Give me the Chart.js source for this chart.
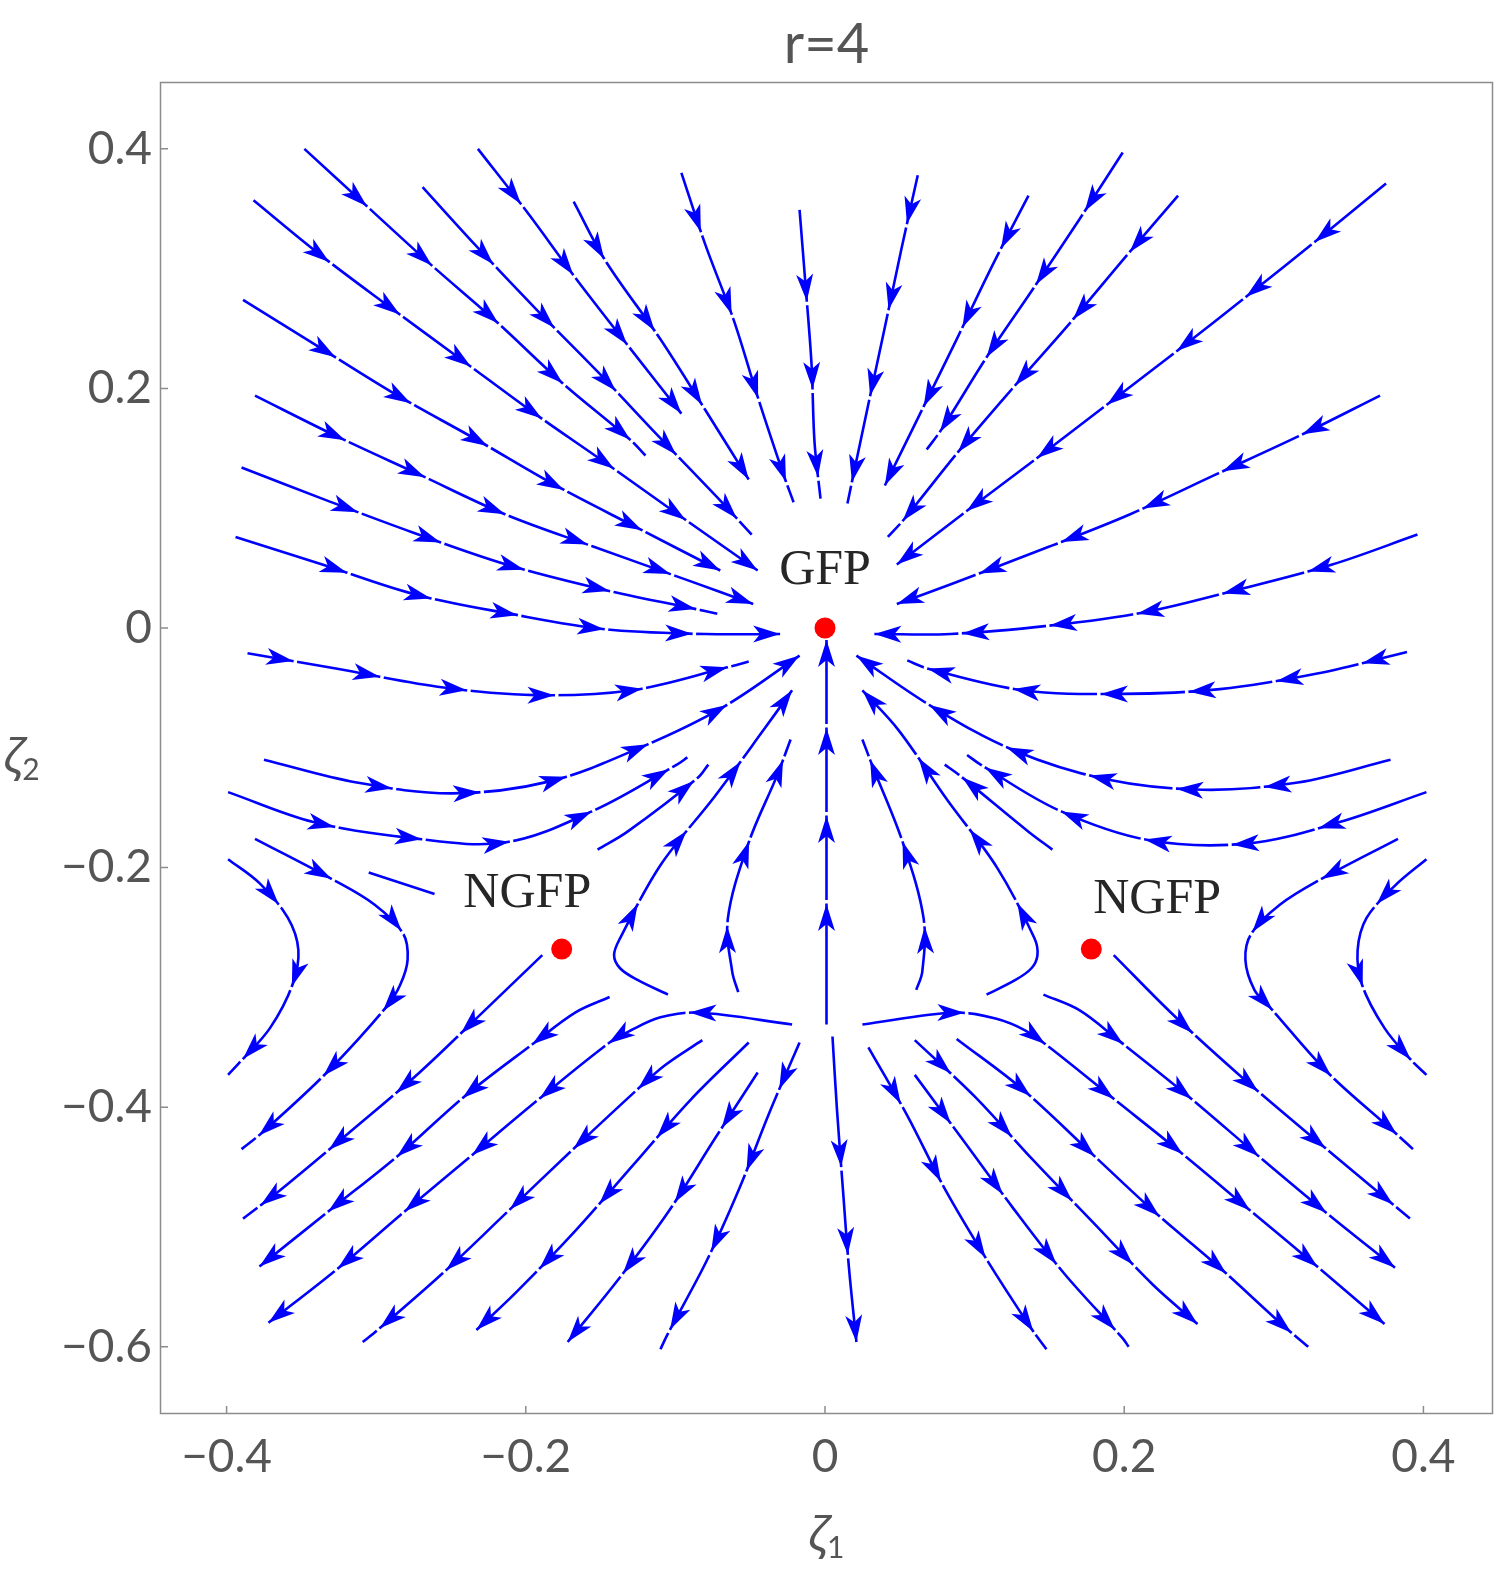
<!DOCTYPE html>
<html><head><meta charset="utf-8">
<script src="https://cdn.jsdelivr.net/npm/chart.js@4.4.1/dist/chart.umd.min.js"></script>
<style>html,body{margin:0;padding:0;background:#fff;overflow:hidden;}#c{position:absolute;left:0;top:0;width:1495px;height:1570px;}</style>
</head><body><canvas id="c" width="1495" height="1570"></canvas>
<script>
// ---------- data ----------
const titleText = 'r=4';
const xAxisLabel = ['ζ', '1'];
const yAxisLabel = ['ζ', '2'];
const xTicks = [-0.4, -0.2, 0, 0.2, 0.4];
const yTicks = [0.4, 0.2, 0, -0.2, -0.4, -0.6];
const xRange = [-0.4445, 0.4465];
const yRange = [-0.6561, 0.4558];

const fixedPoints = [[0, 0], [-0.176, -0.268], [0.178, -0.268]];
const fixedPointNames = ['GFP', 'NGFP', 'NGFP'];
const fixedPointLabelAt = [[0.0, 0.037], [-0.199, -0.233], [0.222, -0.238]];

// streamlines (ζ1, ζ2), in flow order
const sU1 = [[-0.348,0.400],[-0.307,0.353],[-0.264,0.304],[-0.219,0.255],[-0.176,0.205],[-0.130,0.157],[-0.120,0.144]];
const sU2 = [[-0.382,0.357],[-0.340,0.314],[-0.291,0.268],[-0.243,0.224],[-0.194,0.179],[-0.148,0.139],[-0.094,0.091],[-0.045,0.048]];
const sU3 = [[-0.389,0.274],[-0.340,0.236],[-0.287,0.195],[-0.234,0.158],[-0.180,0.119],[-0.126,0.084],[-0.070,0.048]];
const sU4 = [[-0.381,0.194],[-0.328,0.161],[-0.271,0.128],[-0.214,0.095],[-0.155,0.068],[-0.092,0.040],[-0.048,0.020]];
const sU5 = [[-0.390,0.134],[-0.334,0.107],[-0.276,0.080],[-0.213,0.053],[-0.148,0.032],[-0.087,0.016],[-0.072,0.012]];
const sU6 = [[-0.269,0.368],[-0.234,0.320],[-0.193,0.266],[-0.152,0.214],[-0.112,0.161],[-0.072,0.109],[-0.049,0.078]];
const sU7 = [[-0.232,0.400],[-0.199,0.347],[-0.166,0.291],[-0.130,0.233],[-0.096,0.179]];
const sU8 = [[-0.168,0.356],[-0.147,0.307],[-0.110,0.241],[-0.080,0.182],[-0.051,0.124]];
const sU9 = [[-0.096,0.380],[-0.080,0.320],[-0.061,0.257],[-0.045,0.193],[-0.028,0.129],[-0.021,0.105]];
const sU10 = [[-0.017,0.349],[-0.013,0.286],[-0.009,0.220],[-0.007,0.155],[-0.003,0.108]];
const sU11 = [[0.062,0.378],[0.051,0.316],[0.040,0.251],[0.029,0.187],[0.018,0.122],[0.015,0.104]];
const sU12 = [[0.136,0.361],[0.112,0.303],[0.088,0.241],[0.064,0.180],[0.040,0.119]];
const sU13 = [[0.199,0.397],[0.170,0.341],[0.139,0.283],[0.108,0.226],[0.078,0.166],[0.068,0.149]];
const sU14 = [[0.236,0.361],[0.201,0.310],[0.164,0.255],[0.126,0.201],[0.089,0.147],[0.053,0.091],[0.042,0.076]];
const sU15 = [[0.375,0.371],[0.331,0.326],[0.284,0.279],[0.237,0.233],[0.189,0.187],[0.144,0.144],[0.096,0.099],[0.048,0.053]];
const sU16 = [[0.371,0.194],[0.318,0.161],[0.261,0.128],[0.204,0.095],[0.150,0.068],[0.085,0.037],[0.048,0.020]];

const sML1 = [[-0.394,0.076],[-0.336,0.053],[-0.274,0.028],[-0.211,0.012],[-0.147,-0.001],[-0.080,-0.005],[-0.030,-0.005]];
const sML2 = [[-0.386,-0.021],[-0.326,-0.034],[-0.259,-0.049],[-0.194,-0.056],[-0.129,-0.052],[-0.066,-0.033],[-0.051,-0.028]];
const sML3 = [[-0.375,-0.110],[-0.313,-0.129],[-0.249,-0.138],[-0.184,-0.128],[-0.122,-0.099],[-0.068,-0.066],[-0.017,-0.023]];
const sML4 = [[-0.399,-0.137],[-0.342,-0.162],[-0.279,-0.175],[-0.214,-0.179],[-0.154,-0.152],[-0.099,-0.114],[-0.092,-0.108]];
const sML5 = [[-0.152,-0.185],[-0.132,-0.170],[-0.085,-0.125],[-0.078,-0.114]];
const sMR1 = [[0.396,0.078],[0.339,0.053],[0.276,0.032],[0.213,0.013],[0.150,0.002],[0.084,-0.005],[0.033,-0.005]];
const sMR2 = [[0.389,-0.020],[0.329,-0.038],[0.264,-0.051],[0.199,-0.055],[0.132,-0.052],[0.069,-0.034],[0.055,-0.027]];
const sMR3 = [[0.378,-0.110],[0.316,-0.129],[0.252,-0.135],[0.187,-0.126],[0.126,-0.102],[0.072,-0.066],[0.021,-0.023]];
const sMR4 = [[0.402,-0.137],[0.344,-0.162],[0.282,-0.180],[0.216,-0.177],[0.156,-0.152],[0.104,-0.114],[0.095,-0.106]];
const sMR5 = [[0.152,-0.185],[0.136,-0.170],[0.090,-0.123],[0.080,-0.114]];

const sCA1 = [[-0.105,-0.306],[-0.125,-0.294],[-0.137,-0.284],[-0.141,-0.273],[-0.137,-0.259],[-0.110,-0.198],[-0.074,-0.141],[-0.041,-0.085],[-0.022,-0.052]];
const sCA2 = [[-0.058,-0.304],[-0.062,-0.287],[-0.065,-0.243],[-0.051,-0.179],[-0.032,-0.123],[-0.023,-0.093]];
const sCA3 = [[0.001,-0.331],[0.001,-0.264],[0.001,-0.204],[0.001,-0.139],[0.001,-0.072],[0.001,-0.010]];
const sCA4 = [[0.061,-0.302],[0.065,-0.287],[0.066,-0.243],[0.052,-0.179],[0.032,-0.116],[0.025,-0.093]];
const sCA5 = [[0.108,-0.306],[0.127,-0.294],[0.138,-0.284],[0.142,-0.273],[0.140,-0.259],[0.115,-0.200],[0.082,-0.144],[0.049,-0.085],[0.025,-0.052]];

const sLL0 = [[-0.144,-0.308],[-0.167,-0.321],[-0.194,-0.346],[-0.241,-0.391],[-0.284,-0.439],[-0.331,-0.486],[-0.378,-0.533]];
const sLL1 = [[-0.022,-0.331],[-0.085,-0.321],[-0.110,-0.325],[-0.130,-0.336],[-0.144,-0.346],[-0.191,-0.393],[-0.235,-0.439],[-0.281,-0.487],[-0.326,-0.535],[-0.372,-0.580]];
const sLL2 = [[-0.082,-0.344],[-0.107,-0.365],[-0.127,-0.387],[-0.170,-0.437],[-0.212,-0.487],[-0.255,-0.538],[-0.299,-0.586],[-0.309,-0.596]];
const sLL3 = [[-0.051,-0.346],[-0.090,-0.394],[-0.128,-0.448],[-0.166,-0.502],[-0.206,-0.554],[-0.233,-0.586]];
const sLL4 = [[-0.045,-0.371],[-0.074,-0.427],[-0.104,-0.486],[-0.137,-0.542],[-0.172,-0.596]];
const sLL5 = [[-0.017,-0.346],[-0.037,-0.404],[-0.057,-0.467],[-0.079,-0.528],[-0.105,-0.589],[-0.110,-0.602]];
const sLC  = [[0.005,-0.341],[0.008,-0.402],[0.012,-0.469],[0.016,-0.534],[0.021,-0.596]];
const sLR5 = [[0.029,-0.350],[0.055,-0.407],[0.080,-0.468],[0.108,-0.527],[0.138,-0.585],[0.148,-0.602]];
const sLR4 = [[0.060,-0.373],[0.092,-0.427],[0.125,-0.483],[0.160,-0.539],[0.199,-0.593],[0.203,-0.600]];
const sLR3 = [[0.060,-0.344],[0.100,-0.391],[0.139,-0.444],[0.179,-0.496],[0.219,-0.548],[0.249,-0.581]];
const sLR2 = [[0.088,-0.343],[0.132,-0.385],[0.176,-0.436],[0.219,-0.486],[0.263,-0.533],[0.306,-0.582],[0.323,-0.600]];
const sLR1 = [[0.025,-0.331],[0.087,-0.321],[0.114,-0.326],[0.134,-0.336],[0.150,-0.350],[0.193,-0.393],[0.239,-0.439],[0.284,-0.486],[0.329,-0.533],[0.374,-0.581]];
const sLR0 = [[0.146,-0.306],[0.170,-0.319],[0.196,-0.344],[0.243,-0.391],[0.289,-0.440],[0.334,-0.487],[0.381,-0.534]];
const sNR = [[0.193,-0.273],[0.232,-0.322],[0.275,-0.371],[0.320,-0.419],[0.366,-0.467],[0.391,-0.493]];
const sNL = [[-0.189,-0.273],[-0.229,-0.321],[-0.271,-0.371],[-0.316,-0.419],[-0.363,-0.468],[-0.389,-0.493]];
const sHL1 = [[-0.399,-0.193],[-0.378,-0.213],[-0.359,-0.242],[-0.352,-0.269],[-0.356,-0.298],[-0.371,-0.334],[-0.390,-0.361],[-0.399,-0.373]];
const sHL2 = [[-0.381,-0.176],[-0.329,-0.210],[-0.301,-0.231],[-0.282,-0.255],[-0.279,-0.277],[-0.284,-0.298],[-0.293,-0.316],[-0.333,-0.371],[-0.376,-0.421],[-0.390,-0.435]];
const sHL3 = [[-0.305,-0.204],[-0.261,-0.222]];
const sHR1 = [[0.402,-0.193],[0.381,-0.215],[0.362,-0.242],[0.356,-0.269],[0.359,-0.298],[0.374,-0.334],[0.392,-0.361],[0.402,-0.373]];
const sHR2 = [[0.383,-0.176],[0.331,-0.210],[0.304,-0.231],[0.285,-0.255],[0.281,-0.277],[0.287,-0.302],[0.297,-0.316],[0.336,-0.371],[0.379,-0.419],[0.393,-0.435]];

const streamlines = [sU1,sU2,sU3,sU4,sU5,sU6,sU7,sU8,sU9,sU10,sU11,sU12,sU13,sU14,sU15,sU16,
  sML1,sML2,sML3,sML4,sML5,sMR1,sMR2,sMR3,sMR4,sMR5,sCA1,sCA2,sCA3,sCA4,sCA5,
  sLL0,sLL1,sLL2,sLL3,sLL4,sLL5,sLC,sLR5,sLR4,sLR3,sLR2,sLR1,sLR0,sNR,sNL,sHL1,sHL2,sHL3,sHR1,sHR2];
const arrowAtEnd = [sU2,sU3,sU4,sU7,sU8,sU12,sU15,sU16,sML1,sML3,sMR1,sMR3,sCA1,sCA3,sCA5,
  sLL0,sLL1,sLL3,sLL4,sLC,sLR3,sLR1,sLR0];
const withoutArrows = [sHL3];

// ---------- styles ----------
const BLUE = '#0000ff';
const FRAME = '#8c8c8c';
const LABEL = '#555555';
const ARROW_SPACING = 88, ARROW_LEN = 27, ARROW_HALF = 8.5, TAIL_GAP = 22, MIN_START = 45;

const fmt = v => {
  if (Math.abs(v) < 1e-9) return '0';
  return (v < 0 ? '\u2212' : '') + Math.abs(v).toFixed(1);
};

const datasets = [{
  label: 'fixed points',
  data: fixedPoints.map(p => ({x: p[0], y: p[1]})),
  showLine: false, pointRadius: 10.5, pointBackgroundColor: '#ff0000',
  pointBorderWidth: 0, pointBorderColor: '#ff0000'
}];
streamlines.forEach((s, i) => datasets.push({
  label: 'stream ' + i,
  data: s.map(p => ({x: p[0], y: p[1]})),
  showLine: true, borderColor: BLUE, borderWidth: 2.6, pointRadius: 0, tension: 0.35,
  isStream: true, tipAtEnd: arrowAtEnd.includes(s), noArrow: withoutArrows.includes(s)
}));

function sampleMeta(meta) {
  const els = meta.data, out = [];
  for (let i = 0; i < els.length; i++) {
    const p = els[i];
    if (i === 0) { out.push([p.x, p.y]); continue; }
    const q = els[i - 1];
    const c1x = q.cp2x ?? q.x, c1y = q.cp2y ?? q.y, c2x = p.cp1x ?? p.x, c2y = p.cp1y ?? p.y;
    for (let k = 1; k <= 20; k++) {
      const t = k / 20, u = 1 - t;
      out.push([u*u*u*q.x + 3*u*u*t*c1x + 3*u*t*t*c2x + t*t*t*p.x,
                u*u*u*q.y + 3*u*u*t*c1y + 3*u*t*t*c2y + t*t*t*p.y]);
    }
  }
  return out;
}

const arrowPlugin = {
  id: 'streamArrows',
  afterDatasetsDraw(chart) {
    const ctx = chart.ctx;
    ctx.save();
    chart.data.datasets.forEach((ds, i) => {
      if (!ds.isStream || ds.noArrow) return;
      const pts = sampleMeta(chart.getDatasetMeta(i));
      const cum = [0];
      for (let k = 1; k < pts.length; k++) cum.push(cum[k-1] + Math.hypot(pts[k][0]-pts[k-1][0], pts[k][1]-pts[k-1][1]));
      const L = cum[cum.length - 1];
      let pos = L - (ds.tipAtEnd ? 0 : TAIL_GAP);
      const at = (s) => {
        let k = 1; while (k < cum.length - 1 && cum[k] < s) k++;
        const seg = cum[k] - cum[k-1] || 1, f = (s - cum[k-1]) / seg;
        return [pts[k-1][0] + f*(pts[k][0]-pts[k-1][0]), pts[k-1][1] + f*(pts[k][1]-pts[k-1][1])];
      };
      while (pos > MIN_START) {
        const tip = at(pos), back = at(Math.max(0, pos - 10));
        let dx = tip[0]-back[0], dy = tip[1]-back[1]; const n = Math.hypot(dx, dy) || 1; dx /= n; dy /= n;
        if (pos < L - 2) {
          ctx.strokeStyle = '#ffffff'; ctx.lineWidth = 4.5; ctx.lineCap = 'butt';
          ctx.beginPath(); ctx.moveTo(tip[0]+dx*0.5, tip[1]+dy*0.5); ctx.lineTo(tip[0]+dx*4, tip[1]+dy*4); ctx.stroke();
        }
        const bx = tip[0]-dx*ARROW_LEN, by = tip[1]-dy*ARROW_LEN;
        const nx = tip[0]-dx*ARROW_LEN*0.74, ny = tip[1]-dy*ARROW_LEN*0.74;
        ctx.fillStyle = BLUE;
        ctx.beginPath();
        ctx.moveTo(tip[0], tip[1]);
        ctx.lineTo(bx - dy*ARROW_HALF, by + dx*ARROW_HALF);
        ctx.lineTo(nx, ny);
        ctx.lineTo(bx + dy*ARROW_HALF, by - dx*ARROW_HALF);
        ctx.closePath(); ctx.fill();
        pos -= ARROW_SPACING;
      }
    });
    // fixed-point labels
    const xs = chart.scales.x, ys = chart.scales.y;
    ctx.fillStyle = '#262626';
    ctx.font = '50px "Liberation Serif", "Times New Roman", serif';
    ctx.textAlign = 'center'; ctx.textBaseline = 'alphabetic';
    fixedPointNames.forEach((name, k) => {
      ctx.fillText(name, xs.getPixelForValue(fixedPointLabelAt[k][0]), ys.getPixelForValue(fixedPointLabelAt[k][1]));
    });
    ctx.restore();
  }
};

const framePlugin = {
  id: 'frameTicks',
  afterDraw(chart) {
    const ctx = chart.ctx, a = chart.chartArea, xs = chart.scales.x, ys = chart.scales.y;
    ctx.save();
    ctx.strokeStyle = FRAME; ctx.lineWidth = 1.5;
    ctx.strokeRect(a.left + 0.5, a.top + 0.5, a.right - a.left - 1, a.bottom - a.top - 1);
    ctx.beginPath();
    xTicks.forEach(v => { const p = xs.getPixelForValue(v); ctx.moveTo(p, a.bottom); ctx.lineTo(p, a.bottom - 8); });
    yTicks.forEach(v => { const p = ys.getPixelForValue(v); ctx.moveTo(a.left, p); ctx.lineTo(a.left + 8, p); });
    ctx.stroke();
    // axis labels with subscripts
    ctx.fillStyle = LABEL; ctx.textAlign = 'left'; ctx.textBaseline = 'alphabetic';
    const draw = (lab, x, y, centered) => {
      ctx.font = 'italic 46px "Noto Sans", "DejaVu Sans", sans-serif';
      const w1 = ctx.measureText(lab[0]).width;
      ctx.font = '30px Lato, "Noto Sans", sans-serif';
      const w2 = ctx.measureText(lab[1]).width;
      const x0 = centered ? x - (w1 + w2) / 2 : x;
      ctx.font = 'italic 46px "Noto Sans", "DejaVu Sans", sans-serif';
      ctx.fillText(lab[0], x0, y);
      ctx.font = '30px Lato, "Noto Sans", sans-serif';
      ctx.fillText(lab[1], x0 + w1, y + 8);
    };
    draw(xAxisLabel, (a.left + a.right) / 2, 1550, true);
    draw(yAxisLabel, 4, 772, false);
    ctx.restore();
  }
};

new Chart(document.getElementById('c'), {
  type: 'scatter',
  data: { datasets },
  options: {
    responsive: false, maintainAspectRatio: false, devicePixelRatio: 1, animation: false, events: [],
    layout: { autoPadding: false, padding: { left: 0, right: 2, top: 0, bottom: 0 } },
    plugins: {
      legend: { display: false }, tooltip: { enabled: false },
      title: { display: true, text: titleText, fullSize: false, color: LABEL,
        font: { family: 'Lato', size: 56, weight: 'normal', lineHeight: 1 }, padding: { top: 17, bottom: 9 } }
    },
    scales: {
      x: {
        type: 'linear', min: xRange[0], max: xRange[1],
        afterBuildTicks: s => { s.ticks = xTicks.map(v => ({ value: v })); },
        afterFit: s => { s.height = 156; s.paddingLeft = 0; s.paddingRight = 0; },
        grid: { display: false, drawTicks: false }, border: { display: false },
        ticks: { callback: v => fmt(v), color: LABEL, font: { family: 'Lato', size: 46 }, padding: 16, maxRotation: 0, autoSkip: false }
      },
      y: {
        type: 'linear', min: yRange[0], max: yRange[1],
        afterBuildTicks: s => { s.ticks = yTicks.map(v => ({ value: v })); },
        afterFit: s => { s.width = 160; s.paddingTop = 0; s.paddingBottom = 0; },
        grid: { display: false, drawTicks: false }, border: { display: false },
        ticks: { callback: v => fmt(v), color: LABEL, font: { family: 'Lato', size: 46 }, padding: 8, autoSkip: false }
      }
    }
  },
  plugins: [arrowPlugin, framePlugin]
});
</script>
</body></html>
